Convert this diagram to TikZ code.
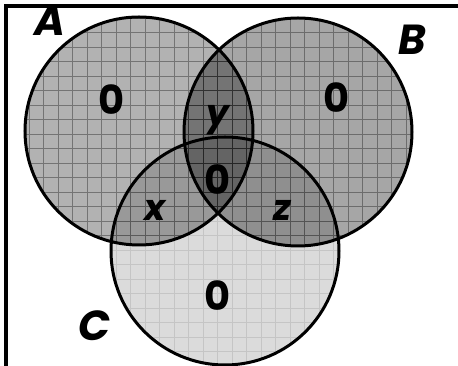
\documentclass[tikz,border=0pt]{standalone}
\usepackage{fontspec}
\setmainfont{Poppins}
\usepackage{tikz}
\usetikzlibrary{calc}
\tikzstyle{setline}=[draw=black, line width=3pt]
\tikzstyle{gridline}=[draw=black, line width=0.6pt]
\tikzstyle{frameline}=[draw=black, line width=4pt]
\tikzstyle{setlbl}=[font=\fontsize{42}{42}\selectfont\bfseries\itshape, inner sep=0pt]
\tikzstyle{cnt}=[font=\fontsize{40}{40}\selectfont\bfseries, inner sep=0pt]
\tikzstyle{var}=[font=\fontsize{36}{36}\selectfont\bfseries\itshape, inner sep=0pt]
\begin{document}
\begin{tikzpicture}[x=1pt,y=1pt]
\useasboundingbox (0,0) rectangle (458,366);
\coordinate (cA) at (139,235);
\coordinate (cB) at (298,234);
\coordinate (cC) at (225,115);
% shaded sets
\fill[black,opacity=0.3] (cA) circle (114);
\fill[black,opacity=0.35] (cB) circle (114);
\fill[black,opacity=0.14] (cC) circle (114);
% grid inside each set
\begin{scope}
\clip (cA) circle (114);
\draw[gridline,opacity=0.35] (0,0) grid[step=14.5] (458,366);
\end{scope}
\begin{scope}
\clip (cB) circle (114);
\draw[gridline,opacity=0.35] (0,0) grid[step=14.5] (458,366);
\end{scope}
\begin{scope}
\clip (cC) circle (114);
\draw[gridline,opacity=0.1] (0,0) grid[step=14.5] (458,366);
\end{scope}
% outlines
\draw[setline] (cA) circle (114);
\draw[setline] (cB) circle (114);
\draw[setline] (cC) circle (114);
\draw[frameline] (6,0) -- (6,360) -- (458,360);
% labels
\node[setlbl] (lA) at (50,345) {A};
\node[setlbl] (lB) at (412,326) {B};
\node[setlbl] (lC) at (95,40) {C};
\node[cnt] (nA) at (112,266) {0};
\node[cnt] (nB) at (337,268) {0};
\node[cnt] (nC) at (218,70) {0};
\node[cnt] (nABC) at (218,186) {0};
\node[var] (vy) at (218,246) {y};
\node[var] (vx) at (155,156) {x};
\node[var] (vz) at (282,156) {z};
\end{tikzpicture}
\end{document}
